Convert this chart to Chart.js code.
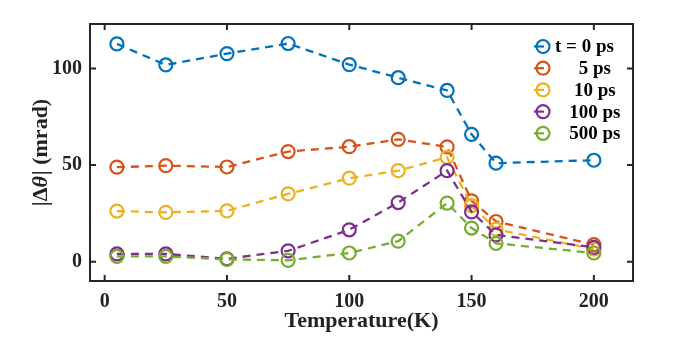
<!DOCTYPE html>
<html>
<head>
<meta charset="utf-8">
<script src="https://cdn.jsdelivr.net/npm/chart.js@4/dist/chart.umd.min.js"></script>
<style>
    html, body { margin: 0; padding: 0; background: #fff; }
    #wrap { width: 698px; height: 337px; }
</style>
</head>
<body>
<div id="wrap"><canvas id="chart" width="698" height="337"></canvas></div>
<script>
// 数据
const temperatures = [5, 25, 50, 75, 100, 120, 140, 150, 160, 200];
const series0ps   = [112.7, 101.8, 107.7, 112.9, 102.0, 95.2, 88.6, 65.9, 51.0, 52.5];
const series5ps   = [48.9, 49.7, 49.0, 57.0, 59.5, 63.3, 59.4, 31.5, 20.8, 8.8];
const series10ps  = [26.2, 25.5, 26.3, 35.1, 43.2, 47.1, 54.0, 29.0, 16.8, 6.5];
const series100ps = [4.0, 4.0, 1.5, 5.6, 16.5, 30.6, 47.1, 25.8, 13.9, 7.4];
const series500ps = [2.7, 2.7, 1.2, 0.7, 4.5, 10.6, 30.3, 17.4, 9.5, 4.5];

const seriesLabels = ['t = 0 ps', '     5 ps', '    10 ps', '   100 ps', '   500 ps'];
const seriesColors = ['#0072BD', '#D95319', '#EDB120', '#7E2F8E', '#77AC30'];

const xTicks = [0, 50, 100, 150, 200];
const yTicks = [0, 50, 100];

const FONT = "'Liberation Serif', 'Times New Roman', serif";
const AXIS_COLOR = '#262626';

const allSeries = [series0ps, series5ps, series10ps, series100ps, series500ps];

const datasets = allSeries.map((values, i) => ({
    label: seriesLabels[i],
    data: temperatures.map((t, k) => ({ x: t, y: values[k] })),
    borderColor: seriesColors[i],
    backgroundColor: 'rgba(0,0,0,0)',
    pointBorderColor: seriesColors[i],
    pointBackgroundColor: 'rgba(0,0,0,0)',
    borderWidth: 2.3,
    borderDash: [8, 6],
    pointRadius: 6.5,
    pointBorderWidth: 2.2,
    pointStyle: 'circle',
    tension: 0,
    order: allSeries.length - i   // 后画的在上面
}));

// 坐标框 + 向内的刻度线（四边）
const boxPlugin = {
    id: 'box',
    afterDatasetsDraw(chart) {
        const { ctx, chartArea: a, scales } = chart;
        ctx.save();
        ctx.strokeStyle = AXIS_COLOR;
        ctx.lineWidth = 2;
        ctx.setLineDash([]);
        ctx.strokeRect(a.left, a.top, a.right - a.left, a.bottom - a.top);
        const len = 6;
        ctx.beginPath();
        xTicks.forEach(v => {
            const px = scales.x.getPixelForValue(v);
            ctx.moveTo(px, a.bottom); ctx.lineTo(px, a.bottom - len);
            ctx.moveTo(px, a.top); ctx.lineTo(px, a.top + len);
        });
        yTicks.forEach(v => {
            const py = scales.y.getPixelForValue(v);
            ctx.moveTo(a.left, py); ctx.lineTo(a.left + len, py);
            ctx.moveTo(a.right, py); ctx.lineTo(a.right - len, py);
        });
        ctx.stroke();
        ctx.restore();
    }
};

// 图例（画在坐标区右上角）
const legendPlugin = {
    id: 'innerLegend',
    afterDraw(chart) {
        const { ctx } = chart;
        const x0 = 543, y0 = 46.5, rowH = 21.7;
        ctx.save();
        ctx.font = 'bold 19px ' + FONT;
        ctx.textBaseline = 'middle';
        ctx.textAlign = 'left';
        chart.data.datasets.forEach((ds, i) => {
            const y = y0 + i * rowH;
            ctx.strokeStyle = ds.borderColor;
            ctx.lineWidth = 2.2;
            ctx.setLineDash([]);
            ctx.beginPath();
            ctx.arc(x0, y, 6.5, 0, Math.PI * 2);
            ctx.stroke();
            ctx.beginPath();
            ctx.moveTo(x0 - 9, y);
            ctx.lineTo(x0 + 1, y);
            ctx.stroke();
            ctx.fillStyle = '#000';
            ctx.fillText(ds.label, x0 + 12, y + 1);
        });
        ctx.restore();
    }
};

// y 轴标题（θ 为斜体）
const yTitlePlugin = {
    id: 'yTitle',
    afterDraw(chart) {
        const { ctx } = chart;
        const parts = [
            { t: '|\u0394', f: 'bold 22px ' + FONT },
            { t: '\u03B8', f: 'italic bold 22px ' + FONT },
            { t: '| (mrad)', f: 'bold 22px ' + FONT }
        ];
        ctx.save();
        let total = 0;
        parts.forEach(p => { ctx.font = p.f; p.w = ctx.measureText(p.t).width; total += p.w; });
        ctx.translate(41, 153);
        ctx.rotate(-Math.PI / 2);
        ctx.fillStyle = '#222';
        ctx.textBaseline = 'middle';
        ctx.textAlign = 'left';
        let x = -total / 2;
        parts.forEach(p => { ctx.font = p.f; ctx.fillText(p.t, x, 0); x += p.w + (p.t === '\u03B8' ? 1 : 0); });
        ctx.restore();
    }
};

new Chart(document.getElementById('chart'), {
    type: 'line',
    data: { datasets },
    options: {
        responsive: false,
        animation: false,
        layout: { padding: { left: 0, top: 24, right: 65, bottom: 0 } },
        plugins: {
            legend: { display: false },
            tooltip: { enabled: false }
        },
        scales: {
            x: {
                type: 'linear',
                min: -6,
                max: 216,
                afterBuildTicks: s => { s.ticks = xTicks.map(v => ({ value: v })); },
                afterFit: s => { s.height = 56; },
                grid: { display: false, drawTicks: false },
                border: { display: false },
                ticks: {
                    padding: 9,
                    color: '#222',
                    font: { family: FONT, size: 20, weight: 'bold' }
                },
                title: {
                    display: true,
                    text: 'Temperature(K)',
                    color: '#222',
                    padding: { bottom: 2 },
                    font: { family: FONT, size: 22, weight: 'bold' }
                }
            },
            y: {
                type: 'linear',
                min: -10,
                max: 123,
                afterBuildTicks: s => { s.ticks = yTicks.map(v => ({ value: v })); },
                afterFit: s => { s.width = 90; },
                grid: { display: false, drawTicks: false },
                border: { display: false },
                ticks: {
                    padding: 8,
                    color: '#222',
                    font: { family: FONT, size: 20, weight: 'bold' }
                },
                title: { display: false }
            }
        }
    },
    plugins: [boxPlugin, legendPlugin, yTitlePlugin]
});
</script>
</body>
</html>
